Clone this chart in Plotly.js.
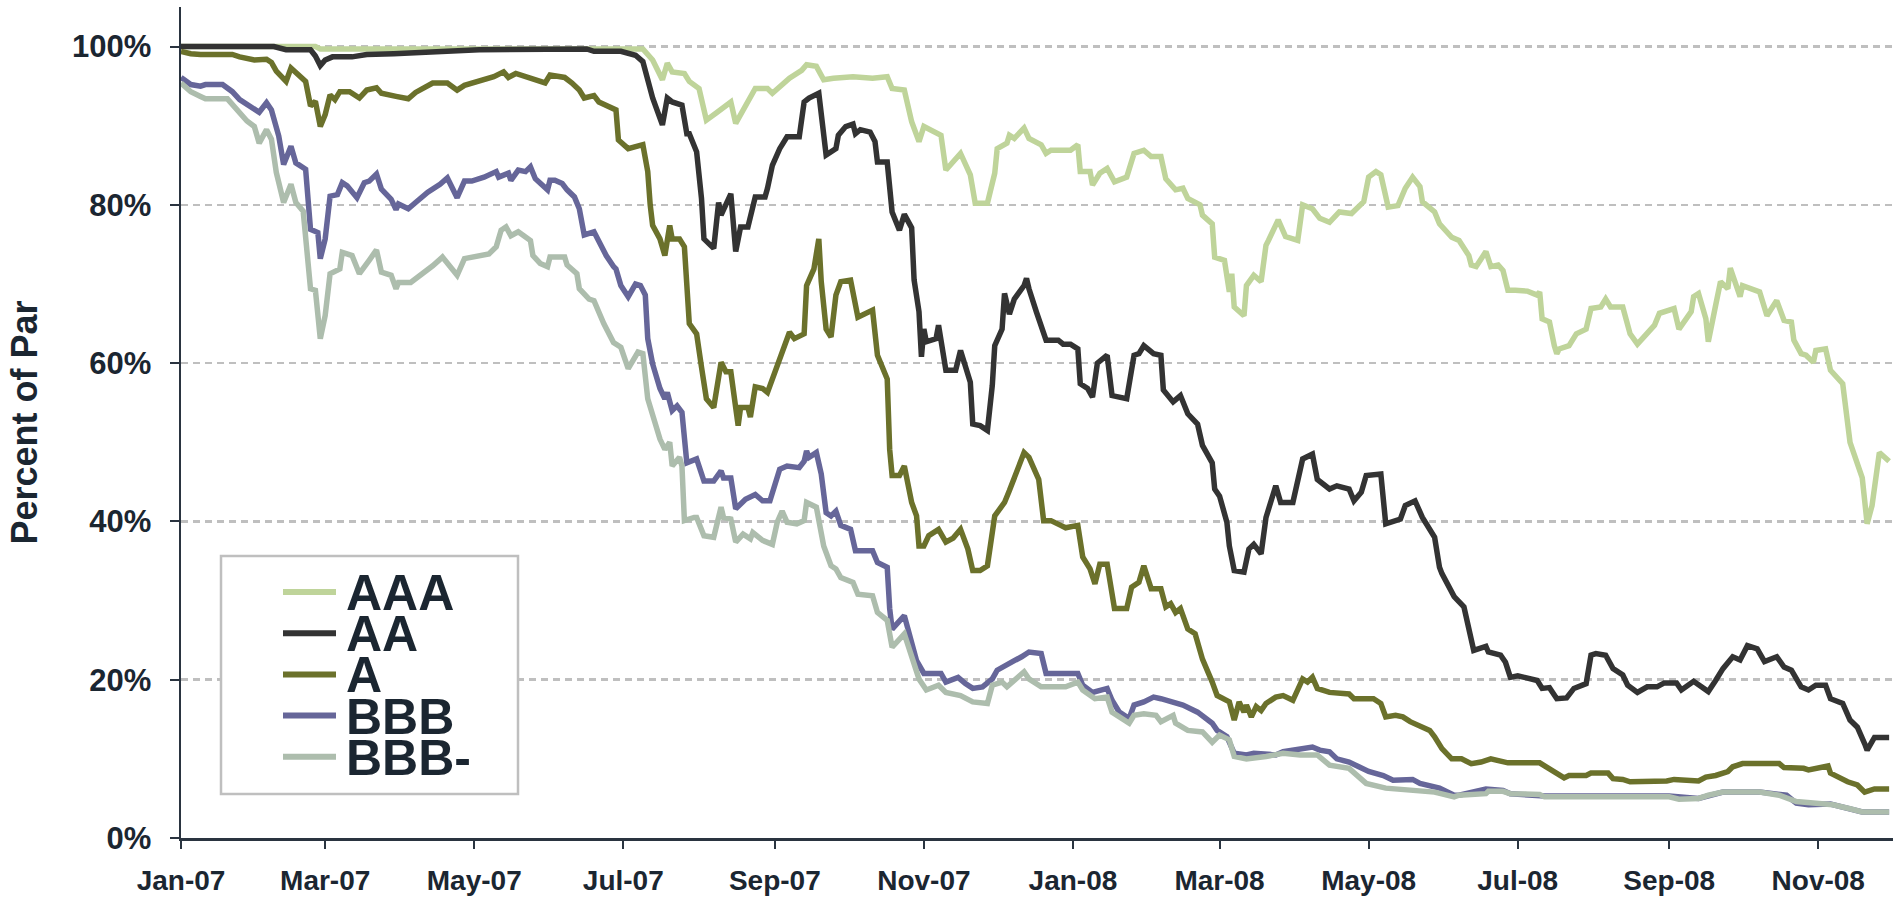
<!DOCTYPE html>
<html>
<head>
<meta charset="utf-8">
<script src="https://cdn.plot.ly/plotly-3.0.1.min.js"></script>
<style>html,body{margin:0;padding:0;background:#fff;}#chart{width:1900px;height:898px;}</style>
</head>
<body>
<div id="chart"></div>
<script>
// ---------------- DATA ----------------
const seriesNames = ['AAA', 'AA', 'A', 'BBB', 'BBB-'];

const aaaDates = ['2007-01-01','2007-02-25','2007-02-27','2007-07-09','2007-07-13','2007-07-17','2007-07-19','2007-07-21','2007-07-26','2007-07-28','2007-08-01','2007-08-04','2007-08-08','2007-08-14','2007-08-16','2007-08-19','2007-08-24','2007-08-29','2007-08-31','2007-09-07','2007-09-12','2007-09-14','2007-09-18','2007-09-21','2007-09-25','2007-10-03','2007-10-11','2007-10-17','2007-10-19','2007-10-24','2007-10-27','2007-10-30','2007-11-01','2007-11-08','2007-11-10','2007-11-16','2007-11-20','2007-11-22','2007-11-27','2007-11-30','2007-12-01','2007-12-05','2007-12-06','2007-12-08','2007-12-12','2007-12-14','2007-12-19','2007-12-21','2007-12-23','2007-12-31','2008-01-03','2008-01-04','2008-01-08','2008-01-09','2008-01-12','2008-01-15','2008-01-18','2008-01-23','2008-01-26','2008-01-30','2008-02-02','2008-02-06','2008-02-08','2008-02-12','2008-02-15','2008-02-17','2008-02-22','2008-02-23','2008-02-27','2008-02-28','2008-03-03','2008-03-05','2008-03-06','2008-03-07','2008-03-11','2008-03-12','2008-03-15','2008-03-18','2008-03-20','2008-03-21','2008-03-25','2008-03-28','2008-04-02','2008-04-04','2008-04-08','2008-04-11','2008-04-15','2008-04-19','2008-04-24','2008-04-29','2008-05-01','2008-05-04','2008-05-06','2008-05-09','2008-05-13','2008-05-16','2008-05-19','2008-05-22','2008-05-23','2008-05-28','2008-05-30','2008-06-04','2008-06-07','2008-06-11','2008-06-12','2008-06-14','2008-06-18','2008-06-20','2008-06-23','2008-06-25','2008-06-27','2008-06-30','2008-07-05','2008-07-09','2008-07-10','2008-07-11','2008-07-14','2008-07-16','2008-07-17','2008-07-18','2008-07-22','2008-07-25','2008-07-29','2008-07-31','2008-08-04','2008-08-06','2008-08-08','2008-08-13','2008-08-15','2008-08-16','2008-08-19','2008-08-23','2008-08-26','2008-08-28','2008-09-03','2008-09-05','2008-09-10','2008-09-11','2008-09-13','2008-09-16','2008-09-17','2008-09-20','2008-09-22','2008-09-25','2008-09-26','2008-09-30','2008-10-01','2008-10-08','2008-10-11','2008-10-15','2008-10-18','2008-10-21','2008-10-22','2008-10-25','2008-10-27','2008-10-30','2008-10-31','2008-11-04','2008-11-06','2008-11-11','2008-11-13','2008-11-14','2008-11-19','2008-11-20','2008-11-21','2008-11-23','2008-11-26','2008-11-30'];
const aaaValues = [100,100,99.7,99.7,98.3,95.8,97.9,96.8,96.6,95.6,94.7,90.7,91.6,93.0,90.3,92.0,94.7,94.7,94.1,96.0,97.0,97.7,97.5,95.8,96.0,96.2,96.0,96.2,94.7,94.5,90.5,88.0,89.9,88.8,84.4,86.5,83.8,80.2,80.2,84.0,87.1,87.8,88.8,88.4,89.7,88.4,87.6,86.5,86.9,86.9,87.6,84.2,84.2,82.5,84.0,84.6,82.9,83.5,86.5,86.9,86.1,86.1,83.3,81.9,82.1,80.8,80.0,78.7,77.6,73.4,73.0,69.0,71.3,67.1,66.0,69.8,71.1,70.3,74.9,75.5,78.1,76.0,75.5,80.0,79.5,78.3,77.8,79.1,78.9,80.4,83.5,84.2,83.8,79.7,79.9,82.1,83.5,82.3,80.4,79.1,77.6,75.9,75.5,73.6,72.4,72.2,74.1,72.2,72.4,71.7,69.2,69.2,69.1,68.6,69.0,65.6,65.2,62.2,61.2,61.8,62.2,63.7,64.3,66.9,67.1,68.1,67.1,67.1,64.8,63.7,62.4,63.9,64.8,66.3,66.9,64.3,66.5,68.4,68.8,65.6,62.7,67.3,70.3,69.4,72.0,68.4,69.8,69.0,66.0,67.9,65.4,65.2,62.9,61.2,61.0,60.1,61.6,61.8,59.1,57.4,52.5,50.0,45.5,42.0,39.7,42.0,48.7,47.6];

const aaDates = ['2007-01-01','2007-02-08','2007-02-13','2007-02-23','2007-02-25','2007-02-27','2007-03-01','2007-03-04','2007-03-12','2007-03-18','2007-03-29','2007-04-22','2007-05-03','2007-06-16','2007-06-19','2007-06-30','2007-07-06','2007-07-09','2007-07-11','2007-07-13','2007-07-17','2007-07-19','2007-07-21','2007-07-25','2007-07-27','2007-07-28','2007-07-31','2007-08-02','2007-08-03','2007-08-07','2007-08-09','2007-08-10','2007-08-14','2007-08-16','2007-08-18','2007-08-21','2007-08-24','2007-08-28','2007-08-29','2007-08-31','2007-09-03','2007-09-06','2007-09-11','2007-09-13','2007-09-15','2007-09-19','2007-09-22','2007-09-26','2007-09-27','2007-09-30','2007-10-03','2007-10-04','2007-10-06','2007-10-10','2007-10-12','2007-10-13','2007-10-17','2007-10-19','2007-10-22','2007-10-24','2007-10-27','2007-10-28','2007-10-30','2007-10-31','2007-11-01','2007-11-02','2007-11-06','2007-11-07','2007-11-10','2007-11-14','2007-11-16','2007-11-18','2007-11-20','2007-11-21','2007-11-24','2007-11-27','2007-11-29','2007-11-30','2007-12-03','2007-12-04','2007-12-06','2007-12-08','2007-12-12','2007-12-13','2007-12-14','2007-12-17','2007-12-21','2007-12-26','2007-12-28','2007-12-31','2008-01-03','2008-01-04','2008-01-07','2008-01-09','2008-01-11','2008-01-15','2008-01-17','2008-01-23','2008-01-26','2008-01-28','2008-01-30','2008-02-03','2008-02-06','2008-02-07','2008-02-11','2008-02-14','2008-02-17','2008-02-21','2008-02-23','2008-02-27','2008-02-28','2008-03-01','2008-03-04','2008-03-05','2008-03-07','2008-03-11','2008-03-13','2008-03-15','2008-03-18','2008-03-20','2008-03-24','2008-03-26','2008-03-31','2008-04-04','2008-04-08','2008-04-10','2008-04-15','2008-04-18','2008-04-23','2008-04-25','2008-04-28','2008-04-30','2008-05-06','2008-05-08','2008-05-14','2008-05-16','2008-05-20','2008-05-23','2008-05-28','2008-05-30','2008-05-31','2008-06-05','2008-06-09','2008-06-13','2008-06-18','2008-06-19','2008-06-24','2008-06-26','2008-06-28','2008-07-01','2008-07-09','2008-07-11','2008-07-14','2008-07-17','2008-07-21','2008-07-24','2008-07-29','2008-07-31','2008-08-02','2008-08-06','2008-08-09','2008-08-13','2008-08-15','2008-08-19','2008-08-23','2008-08-27','2008-08-30','2008-09-04','2008-09-06','2008-09-11','2008-09-17','2008-09-20','2008-09-23','2008-09-27','2008-09-30','2008-10-03','2008-10-07','2008-10-10','2008-10-15','2008-10-18','2008-10-21','2008-10-25','2008-10-28','2008-10-31','2008-11-04','2008-11-06','2008-11-11','2008-11-14','2008-11-17','2008-11-20','2008-11-21','2008-11-24','2008-11-30'];
const aaValues = [100,100,99.6,99.6,98.8,97.6,98.3,98.7,98.7,99.0,99.1,99.5,99.6,99.7,99.4,99.4,98.9,98.1,95.8,93.5,90.1,93.5,93.0,92.6,89.0,89.0,86.7,80.8,75.7,74.5,80.3,78.7,81.4,74.1,77.2,77.2,81.0,81.0,82.1,85.0,87.1,88.6,88.6,93.0,93.5,94.1,86.3,87.1,88.8,89.9,90.2,89.0,89.5,89.2,88.0,85.4,85.4,79.1,76.8,78.8,77.1,70.5,66.5,60.8,64.3,62.7,63.1,64.8,59.1,59.1,61.6,59.3,57.6,52.3,52.1,51.5,57.2,62.2,64.3,68.8,66.2,68.1,69.8,70.7,69.4,66.5,62.9,62.9,62.4,62.4,61.8,57.4,56.8,55.7,60.0,61.0,55.9,55.5,61.0,61.2,62.2,61.2,61.0,56.6,55.1,55.9,53.6,52.3,49.6,47.4,44.1,43.2,39.9,36.9,33.8,33.6,36.5,37.1,35.9,40.5,44.5,42.4,42.4,47.9,48.5,45.3,44.1,44.5,44.1,42.6,43.7,45.8,46.0,39.7,40.3,42.0,42.6,40.5,38.0,34.2,33.4,30.5,29.2,23.7,24.2,23.5,23.1,22.2,20.3,20.5,19.9,18.9,19.0,17.6,17.7,18.9,19.5,23.1,23.3,23.1,21.4,20.6,19.3,18.4,19.1,19.1,19.6,19.6,18.7,19.8,18.5,19.9,21.4,22.9,22.5,24.3,23.9,22.3,22.9,21.6,21.2,19.1,18.7,19.3,19.3,17.6,17.0,14.9,14.0,11.9,11.1,12.7,12.7];

const aDates = ['2007-01-01','2007-01-05','2007-01-09','2007-01-22','2007-01-25','2007-01-31','2007-02-05','2007-02-07','2007-02-09','2007-02-13','2007-02-15','2007-02-18','2007-02-21','2007-02-23','2007-02-25','2007-02-27','2007-03-01','2007-03-03','2007-03-05','2007-03-07','2007-03-11','2007-03-15','2007-03-18','2007-03-22','2007-03-24','2007-03-30','2007-04-04','2007-04-07','2007-04-11','2007-04-14','2007-04-20','2007-04-24','2007-04-27','2007-05-03','2007-05-09','2007-05-13','2007-05-15','2007-05-18','2007-05-24','2007-05-28','2007-05-30','2007-06-01','2007-06-07','2007-06-10','2007-06-13','2007-06-15','2007-06-19','2007-06-21','2007-06-24','2007-06-28','2007-06-29','2007-07-03','2007-07-09','2007-07-11','2007-07-12','2007-07-13','2007-07-16','2007-07-18','2007-07-20','2007-07-21','2007-07-24','2007-07-26','2007-07-28','2007-07-30','2007-07-31','2007-08-02','2007-08-04','2007-08-07','2007-08-10','2007-08-12','2007-08-14','2007-08-17','2007-08-18','2007-08-21','2007-08-22','2007-08-24','2007-08-27','2007-08-29','2007-08-31','2007-09-03','2007-09-07','2007-09-09','2007-09-13','2007-09-14','2007-09-17','2007-09-19','2007-09-20','2007-09-22','2007-09-24','2007-09-26','2007-09-28','2007-10-02','2007-10-05','2007-10-11','2007-10-13','2007-10-17','2007-10-18','2007-10-19','2007-10-22','2007-10-24','2007-10-27','2007-10-29','2007-10-30','2007-11-01','2007-11-03','2007-11-07','2007-11-10','2007-11-13','2007-11-16','2007-11-19','2007-11-21','2007-11-24','2007-11-27','2007-11-30','2007-12-04','2007-12-06','2007-12-10','2007-12-12','2007-12-14','2007-12-18','2007-12-20','2007-12-23','2007-12-27','2007-12-29','2008-01-03','2008-01-05','2008-01-08','2008-01-10','2008-01-12','2008-01-15','2008-01-18','2008-01-23','2008-01-25','2008-01-28','2008-01-30','2008-02-02','2008-02-06','2008-02-08','2008-02-10','2008-02-12','2008-02-14','2008-02-17','2008-02-20','2008-02-23','2008-02-27','2008-02-29','2008-03-05','2008-03-07','2008-03-09','2008-03-11','2008-03-12','2008-03-14','2008-03-16','2008-03-18','2008-03-20','2008-03-24','2008-03-27','2008-03-31','2008-04-04','2008-04-06','2008-04-08','2008-04-10','2008-04-15','2008-04-23','2008-04-25','2008-05-03','2008-05-06','2008-05-08','2008-05-12','2008-05-15','2008-05-18','2008-05-22','2008-05-26','2008-05-28','2008-05-31','2008-06-04','2008-06-08','2008-06-12','2008-06-16','2008-06-20','2008-06-27','2008-07-10','2008-07-14','2008-07-20','2008-07-22','2008-07-29','2008-07-31','2008-08-07','2008-08-09','2008-08-13','2008-08-16','2008-08-31','2008-09-03','2008-09-13','2008-09-16','2008-09-20','2008-09-25','2008-09-27','2008-10-01','2008-10-16','2008-10-18','2008-10-26','2008-10-28','2008-11-05','2008-11-06','2008-11-13','2008-11-17','2008-11-20','2008-11-24','2008-11-30'];
const aValues = [99.4,99.1,99.0,99.0,98.7,98.3,98.4,98.0,96.9,95.6,97.3,96.4,95.6,92.5,93.1,89.9,91.4,93.9,93.3,94.3,94.3,93.5,94.5,94.8,94.1,93.7,93.4,94.2,94.8,95.4,95.4,94.5,95.1,95.6,96.2,96.8,96.1,96.6,96.0,95.6,95.4,96.4,96.1,95.4,94.5,93.5,93.8,93.0,92.6,92.0,88.2,87.1,87.6,84.2,80.0,77.4,75.7,73.6,77.4,75.7,75.7,74.7,65.0,64.1,63.7,59.5,55.5,54.4,60.1,58.9,58.9,52.1,54.4,54.4,53.2,57.0,56.8,56.3,58.0,61.0,63.9,63.1,63.7,69.8,71.9,75.7,70.3,64.3,63.3,68.6,70.3,70.5,65.8,66.7,61.0,58.0,49.1,45.8,45.8,47.0,42.4,40.7,36.9,36.9,38.2,39.0,37.4,37.9,39.0,36.5,33.8,33.8,34.4,40.7,42.4,43.9,47.4,48.7,48.1,45.3,40.1,40.1,39.5,39.2,39.5,35.5,34.0,32.1,34.6,34.6,29.0,29.0,31.7,32.3,34.4,31.5,31.5,29.2,29.6,28.5,29.0,26.4,25.8,22.6,19.7,18.0,17.2,14.9,17.2,15.9,16.8,15.3,16.6,16.1,17.0,17.8,18.0,17.4,20.1,19.7,20.3,18.9,18.4,18.2,17.6,17.6,17.0,15.3,15.5,15.3,14.7,14.2,13.6,12.8,11.3,10.0,10.0,9.4,9.6,10.0,9.5,9.5,8.8,7.6,7.9,7.9,8.2,8.2,7.5,7.4,7.1,7.2,7.4,7.2,7.7,7.9,8.4,9.0,9.4,9.4,8.9,8.8,8.6,9.1,8.2,7.1,6.7,5.8,6.2,6.2];

const bbbDates = ['2007-01-01','2007-01-05','2007-01-09','2007-01-11','2007-01-18','2007-01-22','2007-01-25','2007-01-29','2007-02-02','2007-02-05','2007-02-07','2007-02-10','2007-02-12','2007-02-15','2007-02-17','2007-02-21','2007-02-23','2007-02-26','2007-02-27','2007-03-01','2007-03-03','2007-03-06','2007-03-08','2007-03-10','2007-03-14','2007-03-17','2007-03-19','2007-03-22','2007-03-24','2007-03-28','2007-03-30','2007-03-31','2007-04-04','2007-04-07','2007-04-12','2007-04-17','2007-04-20','2007-04-24','2007-04-27','2007-04-30','2007-05-05','2007-05-10','2007-05-11','2007-05-15','2007-05-16','2007-05-19','2007-05-22','2007-05-24','2007-05-26','2007-05-31','2007-06-01','2007-06-03','2007-06-06','2007-06-08','2007-06-11','2007-06-13','2007-06-15','2007-06-19','2007-06-21','2007-06-24','2007-06-27','2007-06-28','2007-06-30','2007-07-03','2007-07-06','2007-07-08','2007-07-10','2007-07-11','2007-07-13','2007-07-16','2007-07-18','2007-07-19','2007-07-21','2007-07-23','2007-07-25','2007-07-27','2007-07-31','2007-08-03','2007-08-07','2007-08-10','2007-08-11','2007-08-14','2007-08-16','2007-08-20','2007-08-24','2007-08-27','2007-08-30','2007-09-03','2007-09-06','2007-09-11','2007-09-13','2007-09-14','2007-09-15','2007-09-18','2007-09-20','2007-09-22','2007-09-24','2007-09-26','2007-09-28','2007-10-02','2007-10-04','2007-10-11','2007-10-13','2007-10-17','2007-10-18','2007-10-19','2007-10-24','2007-10-27','2007-10-29','2007-11-01','2007-11-08','2007-11-10','2007-11-15','2007-11-18','2007-11-21','2007-11-25','2007-11-29','2007-12-01','2007-12-05','2007-12-08','2007-12-11','2007-12-14','2007-12-19','2007-12-21','2008-01-03','2008-01-05','2008-01-09','2008-01-12','2008-01-15','2008-01-17','2008-01-20','2008-01-24','2008-01-26','2008-01-30','2008-02-03','2008-02-06','2008-02-11','2008-02-15','2008-02-21','2008-02-27','2008-02-29','2008-03-04','2008-03-07','2008-03-12','2008-03-15','2008-03-24','2008-03-27','2008-04-03','2008-04-08','2008-04-11','2008-04-15','2008-04-18','2008-04-23','2008-04-27','2008-05-01','2008-05-07','2008-05-11','2008-05-19','2008-05-22','2008-05-30','2008-06-05','2008-06-07','2008-06-18','2008-06-25','2008-06-28','2008-07-12','2008-09-01','2008-09-13','2008-09-23','2008-10-08','2008-10-19','2008-10-23','2008-10-28','2008-11-06','2008-11-14','2008-11-19','2008-11-30'];
const bbbValues = [96.1,95.2,95.0,95.2,95.2,94.3,93.3,92.5,91.7,92.9,92.0,88.7,85.1,87.4,85.3,84.5,76.9,76.5,73.2,75.7,81.1,81.3,82.8,82.4,80.9,82.8,83.0,83.9,82.0,80.7,79.4,80.1,79.5,80.3,81.6,82.6,83.4,80.9,83.0,83.0,83.5,84.2,83.5,84.0,83.1,84.4,84.2,84.8,83.3,81.9,83.1,83.1,82.7,81.9,81.0,79.5,76.2,76.6,75.3,73.6,72.2,71.9,69.8,68.4,70.0,69.8,68.6,63.1,59.9,56.8,55.5,56.3,54.0,54.6,53.8,47.4,47.9,45.1,45.1,46.4,45.5,45.5,41.6,42.8,43.4,42.6,42.6,46.6,47.0,46.8,47.6,48.9,48.1,48.7,46.0,41.1,40.7,41.3,39.5,39.0,36.3,36.3,34.8,34.2,29.0,26.4,28.1,25.0,22.4,20.8,20.8,19.7,20.3,19.5,18.9,19.1,20.1,21.2,21.8,22.4,22.9,23.5,23.3,20.8,20.8,19.3,18.4,18.7,18.9,17.4,15.9,15.1,16.8,17.2,17.8,17.6,17.2,16.8,15.9,14.5,13.6,12.8,10.7,10.5,10.7,10.5,10.9,11.3,11.5,11.1,10.9,10.0,9.6,9.0,8.4,7.9,7.3,7.4,6.9,6.3,5.4,5.4,6.2,6.0,5.6,5.3,5.3,5.0,5.8,5.8,5.4,4.4,4.2,4.3,3.7,3.3,3.3];

const bbbMinusDates = ['2007-01-01','2007-01-05','2007-01-09','2007-01-11','2007-01-20','2007-01-24','2007-01-28','2007-01-31','2007-02-02','2007-02-05','2007-02-07','2007-02-09','2007-02-12','2007-02-15','2007-02-17','2007-02-20','2007-02-23','2007-02-25','2007-02-27','2007-03-01','2007-03-03','2007-03-07','2007-03-08','2007-03-12','2007-03-15','2007-03-19','2007-03-22','2007-03-24','2007-03-28','2007-03-30','2007-03-31','2007-04-05','2007-04-10','2007-04-14','2007-04-18','2007-04-20','2007-04-24','2007-04-27','2007-04-30','2007-05-07','2007-05-10','2007-05-12','2007-05-14','2007-05-16','2007-05-19','2007-05-24','2007-05-25','2007-05-28','2007-05-31','2007-06-01','2007-06-07','2007-06-08','2007-06-12','2007-06-13','2007-06-17','2007-06-19','2007-06-23','2007-06-27','2007-06-30','2007-07-03','2007-07-07','2007-07-09','2007-07-11','2007-07-13','2007-07-16','2007-07-18','2007-07-20','2007-07-21','2007-07-24','2007-07-25','2007-07-26','2007-07-30','2007-07-31','2007-08-03','2007-08-07','2007-08-10','2007-08-11','2007-08-14','2007-08-16','2007-08-19','2007-08-22','2007-08-23','2007-08-27','2007-08-31','2007-09-02','2007-09-04','2007-09-06','2007-09-10','2007-09-13','2007-09-14','2007-09-18','2007-09-21','2007-09-24','2007-09-26','2007-09-28','2007-10-03','2007-10-05','2007-10-11','2007-10-13','2007-10-17','2007-10-19','2007-10-24','2007-10-27','2007-10-30','2007-11-02','2007-11-07','2007-11-10','2007-11-16','2007-11-21','2007-11-27','2007-11-29','2007-12-03','2007-12-05','2007-12-09','2007-12-12','2007-12-14','2007-12-19','2007-12-29','2008-01-03','2008-01-05','2008-01-10','2008-01-15','2008-01-17','2008-01-24','2008-01-26','2008-01-30','2008-02-04','2008-02-06','2008-02-11','2008-02-12','2008-02-17','2008-02-23','2008-02-27','2008-03-01','2008-03-05','2008-03-07','2008-03-12','2008-03-20','2008-03-27','2008-04-03','2008-04-10','2008-04-15','2008-04-23','2008-04-30','2008-05-08','2008-05-28','2008-06-05','2008-06-07','2008-06-18','2008-06-19','2008-06-25','2008-06-28','2008-07-10','2008-07-12','2008-09-01','2008-09-05','2008-09-13','2008-09-17','2008-09-23','2008-10-08','2008-10-16','2008-10-23','2008-10-31','2008-11-07','2008-11-14','2008-11-19','2008-11-30'];
const bbbMinusValues = [95.4,94.3,93.7,93.4,93.4,92.0,90.6,89.9,87.8,89.5,88.3,84.1,80.3,82.6,80.3,79.2,69.4,69.2,63.1,66.0,71.3,71.9,74.0,73.6,71.3,73.0,74.3,71.5,71.1,69.4,70.2,70.2,71.3,72.3,73.4,72.7,71.1,73.2,73.4,73.8,74.7,76.8,77.2,76.1,76.6,75.5,73.6,72.6,72.2,73.4,73.4,72.4,71.3,69.4,68.1,67.9,65.0,62.6,62.0,59.3,61.4,61.2,55.5,53.2,50.4,49.1,50.0,47.0,48.1,47.0,40.1,40.5,40.5,38.2,38.0,41.8,40.5,40.3,37.4,38.4,37.8,38.6,37.6,37.1,39.9,41.3,39.9,39.7,40.1,42.4,41.8,36.9,34.4,34.0,32.9,32.3,30.8,30.6,28.5,27.5,24.1,25.8,22.9,20.1,18.7,19.3,18.4,18.0,17.2,17.0,19.3,19.7,19.1,20.1,21.0,20.1,19.1,19.1,19.7,18.7,17.6,17.8,15.9,14.5,15.5,15.7,15.5,14.7,15.5,14.5,13.6,13.4,12.1,13.0,12.4,10.3,10.0,10.3,10.7,10.5,10.5,9.2,8.8,6.9,6.3,5.8,5.2,5.4,5.6,5.9,5.9,5.6,5.5,5.2,5.2,4.9,5.0,5.4,5.8,5.8,5.4,4.6,4.4,4.2,3.7,3.3,3.3];

const xTickValues = ['2007-01-01','2007-03-01','2007-05-01','2007-07-01','2007-09-01','2007-11-01','2008-01-01','2008-03-01','2008-05-01','2008-07-01','2008-09-01','2008-11-01'];
const xTickLabels = ['Jan-07','Mar-07','May-07','Jul-07','Sep-07','Nov-07','Jan-08','Mar-08','May-08','Jul-08','Sep-08','Nov-08'];
const yTickValues = [0, 20, 40, 60, 80, 100];
const yTickLabels = ['0%', '20%', '40%', '60%', '80%', '100%'];
const yAxisTitle = 'Percent of Par';

// ---------------- STYLE ----------------
const seriesColors = ['#bfd49a', '#333333', '#6b712b', '#666699', '#adbdad'];
const textColor = '#1b2631';
const axisColor = '#2a3440';
const fontFamily = 'Arial, "Liberation Sans", sans-serif';

const W = 1900, H = 898;
const M = {l: 181, r: 7, t: 7, b: 60};
const plotW = W - M.l - M.r, plotH = H - M.t - M.b;
const px2x = p => (p - M.l) / plotW;
const px2y = p => (H - M.b - p) / plotH;

const allDates = [aaaDates, aaDates, aDates, bbbDates, bbbMinusDates];
const allValues = [aaaValues, aaValues, aValues, bbbValues, bbbMinusValues];

const traces = seriesNames.map((name, i) => ({
  type: 'scatter', mode: 'lines', name: name,
  x: allDates[i], y: allValues[i],
  line: {color: seriesColors[i], width: 5.5},
  showlegend: false, hoverinfo: 'skip'
}));

// custom legend (tight line spacing like the original)
const legendBox = {x0: 221, x1: 518, y0: 556, y1: 794};
const legendRow0 = 592, legendRowStep = 41.2;
const shapes = [{
  type: 'rect', xref: 'paper', yref: 'paper',
  x0: px2x(legendBox.x0), x1: px2x(legendBox.x1),
  y0: px2y(legendBox.y1), y1: px2y(legendBox.y0),
  line: {color: '#bfbfbf', width: 2.5}, fillcolor: 'rgba(255,255,255,1)', layer: 'above'
}];
const annotations = [];
seriesNames.forEach((name, i) => {
  const yy = legendRow0 + i * legendRowStep;
  shapes.push({
    type: 'line', xref: 'paper', yref: 'paper',
    x0: px2x(283), x1: px2x(336), y0: px2y(yy), y1: px2y(yy),
    line: {color: seriesColors[i], width: 6}, layer: 'above'
  });
  annotations.push({
    xref: 'paper', yref: 'paper', x: px2x(344), y: px2y(yy + 1),
    xanchor: 'left', yanchor: 'middle', showarrow: false, text: name,
    font: {family: fontFamily, size: 50, color: textColor, weight: 'bold'}
  });
});

const layout = {
  width: W, height: H,
  margin: M,
  paper_bgcolor: '#ffffff', plot_bgcolor: '#ffffff',
  font: {family: fontFamily, color: textColor},
  xaxis: {
    type: 'date',
    range: ['2007-01-01', '2008-12-01 14:00'],
    tickmode: 'array', tickvals: xTickValues, ticktext: xTickLabels,
    tickfont: {family: fontFamily, size: 28, color: textColor, weight: 'bold'},
    ticks: 'outside', ticklen: 8, tickwidth: 2, tickcolor: axisColor,
    showline: true, linecolor: axisColor, linewidth: 2.5,
    showgrid: false, zeroline: false,
    ticklabelstandoff: 8,
    automargin: false, fixedrange: true
  },
  yaxis: {
    range: [0, 105],
    tickmode: 'array', tickvals: yTickValues, ticktext: yTickLabels,
    tickfont: {family: fontFamily, size: 31, color: textColor, weight: 'bold'},
    ticks: 'outside', ticklen: 9, tickwidth: 2, tickcolor: axisColor,
    showline: true, linecolor: axisColor, linewidth: 2.5,
    showgrid: true, gridcolor: '#bfbfbf', gridwidth: 2.5, griddash: '7px,5px',
    zeroline: false,
    ticklabelstandoff: 12,
    title: {text: yAxisTitle, font: {family: fontFamily, size: 36, color: textColor, weight: 'bold'}, standoff: 24},
    automargin: false, fixedrange: true
  },
  shapes: shapes,
  annotations: annotations,
  showlegend: false
};

Plotly.newPlot('chart', traces, layout, {displayModeBar: false, staticPlot: true});
</script>
</body>
</html>
